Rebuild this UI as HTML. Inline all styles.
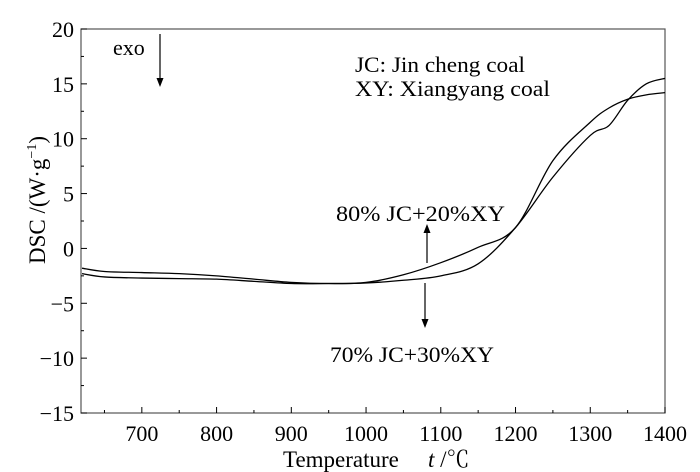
<!DOCTYPE html>
<html><head><meta charset="utf-8"><style>
body{margin:0;background:#fff}
svg{display:block;font-family:"Liberation Serif","Noto Serif CJK SC",serif}
</style></head><body>
<svg id="chart" width="700" height="472">
<g id="plot"></g>
<text x="113" y="55" font-size="22">exo</text>
<line x1="160" y1="34" x2="160" y2="80" stroke="#000" stroke-width="1.2"/>
<polygon points="156.5,78 163.5,78 160,87" fill="#000"/>
<text x="355" y="72" font-size="22" textLength="170" lengthAdjust="spacingAndGlyphs">JC: Jin cheng coal</text>
<text x="355" y="96" font-size="22" textLength="195" lengthAdjust="spacingAndGlyphs">XY: Xiangyang coal</text>
<text x="336" y="221" font-size="22" textLength="169" lengthAdjust="spacingAndGlyphs">80% JC+20%XY</text>
<line x1="427" y1="263" x2="427" y2="231" stroke="#000" stroke-width="1.2"/>
<polygon points="423.5,233 430.5,233 427,224" fill="#000"/>
<line x1="425" y1="283" x2="425" y2="321" stroke="#000" stroke-width="1.2"/>
<polygon points="421.5,319 428.5,319 425,328" fill="#000"/>
<text x="330" y="362" font-size="22" textLength="164" lengthAdjust="spacingAndGlyphs">70% JC+30%XY</text>
<text x="283" y="467" font-size="23">Temperature</text>
<text x="428" y="467" font-size="23"><tspan font-style="italic">t</tspan> /℃</text>
<text transform="translate(45,200) rotate(-90)" text-anchor="middle" font-size="23">DSC /(W·g<tspan font-size="14" dy="-9">−1</tspan><tspan dy="9">)</tspan></text>
</svg>
<script>
const temps=[620,650,700,750,800,850,900,950,1000,1050,1100,1150,1200,1250,1300,1325,1350,1375,1400];
const seriesA=[-1.8,-2.1,-2.2,-2.3,-2.5,-2.8,-3.1,-3.2,-3.1,-2.4,-1.3,0.1,1.9,8.0,11.5,12.8,13.6,14.0,14.2];
const seriesB=[-2.3,-2.6,-2.7,-2.75,-2.8,-3.0,-3.2,-3.2,-3.15,-2.9,-2.5,-1.4,1.9,6.5,10.3,11.2,13.5,15.0,15.5];
const xTicks=[700,800,900,1000,1100,1200,1300,1400];
const yTicks=[-15,-10,-5,0,5,10,15,20];
var L=81,R=665,T=29,B=413,xmin=618.6,xmax=1400,ymin=-15,ymax=20;
function sx(v){return L+(v-xmin)/(xmax-xmin)*(R-L);}
function sy(v){return B-(v-ymin)/(ymax-ymin)*(B-T);}
var g=document.getElementById('plot');
var NS='http://www.w3.org/2000/svg';
function mk(t,a){var e=document.createElementNS(NS,t);for(var k in a)e.setAttribute(k,a[k]);g.appendChild(e);return e;}
var fr=mk('rect',{x:L,y:T,width:R-L,height:B-T,fill:'none',stroke:'#555','stroke-width':1.2});


xTicks.forEach(function(v){
 var t=mk('line',{x1:sx(v),x2:sx(v),y1:B,y2:B-6,stroke:'#000'});
 
 
 var m=mk('line',{x1:sx(v-50),x2:sx(v-50),y1:B,y2:B-3,stroke:'#000'});
 
 
 var l=mk('text',{x:sx(v),y:441,'text-anchor':'middle','font-size':22});
 l.textContent=v;
 
 
});
yTicks.forEach(function(v){
 var t=mk('line',{x1:L,x2:L+6,y1:sy(v),y2:sy(v),stroke:'#000'});
 
 
 if(v<20){var m=mk('line',{x1:L,x2:L+3,y1:sy(v+2.5),y2:sy(v+2.5),stroke:'#000'});
 
 }
 var l=mk('text',{x:74,y:sy(v)+8,'text-anchor':'end','font-size':22});
 l.textContent=(v<0?'−'+(-v):v);
 
 
});
function path(ys){
 var p=temps.map(function(t,i){return [sx(t),sy(ys[i])];});
 var d='M'+p[0][0]+','+p[0][1];
 for(var i=0;i<p.length-1;i++){
  var p0=p[i-1]||p[i],p1=p[i],p2=p[i+1],p3=p[i+2]||p2;
  d+=' C'+(p1[0]+(p2[0]-p0[0])/6)+','+(p1[1]+(p2[1]-p0[1])/6)+' '+(p2[0]-(p3[0]-p1[0])/6)+','+(p2[1]-(p3[1]-p1[1])/6)+' '+p2[0]+','+p2[1];
 }
 return d;
}
var a=mk('path',{d:path(seriesA),fill:'none',stroke:'#000','stroke-width':1.3});


var b=mk('path',{d:path(seriesB),fill:'none',stroke:'#000','stroke-width':1.3});


</script>
</body></html>
